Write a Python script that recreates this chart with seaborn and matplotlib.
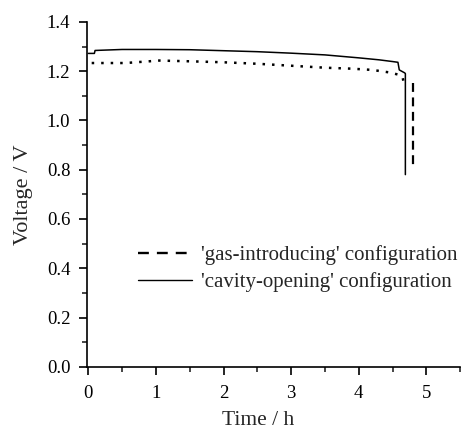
import numpy as np
import pandas as pd
import matplotlib
matplotlib.use("Agg")
import matplotlib.pyplot as plt
import seaborn as sns
from matplotlib.ticker import MultipleLocator
from matplotlib.lines import Line2D

# 'cavity-opening' configuration (solid)
cav_t = [0.0, 0.09, 0.10, 0.5, 1.0, 1.5, 2.0, 2.5, 3.0, 3.5, 4.0, 4.3, 4.5, 4.58, 4.60, 4.68, 4.69, 4.69]
cav_v = [1.272, 1.272, 1.284, 1.288, 1.288, 1.287, 1.283, 1.279, 1.273, 1.266, 1.254, 1.246, 1.239, 1.236, 1.205, 1.193, 1.19, 0.78]

# 'gas-introducing' configuration: plateau (dotted look) and final drop (dashed)
gas_t = [0.05, 0.3, 0.55, 1.05, 1.5, 2.0, 2.5, 3.0, 3.5, 3.9, 4.2, 4.45, 4.6, 4.65, 4.66]
gas_v = [1.233, 1.233, 1.233, 1.243, 1.240, 1.236, 1.230, 1.222, 1.214, 1.210, 1.205, 1.195, 1.185, 1.175, 1.16]
drop_t = [4.8, 4.8]
drop_v = [1.15, 0.81]

labels = ["'gas-introducing' configuration", "'cavity-opening' configuration"]
xticks = [0, 1, 2, 3, 4, 5]
yticks = [0.0, 0.2, 0.4, 0.6, 0.8, 1.0, 1.2, 1.4]

sns.set_style("ticks")
plt.rcParams['font.family'] = ['Liberation Serif', 'DejaVu Serif']

fig = plt.figure(figsize=(4.70, 4.29), dpi=100)
ax = fig.add_axes([0.185, 0.145, 0.794, 0.804])

cav = pd.DataFrame({"t": cav_t, "v": cav_v})
gas = pd.DataFrame({"t": gas_t, "v": gas_v})
drop = pd.DataFrame({"t": drop_t, "v": drop_v})

sns.lineplot(data=gas, x="t", y="v", ax=ax, color="black", lw=1.8,
             linestyle=(0, (1.0, 2.8)), sort=False, estimator=None)
sns.lineplot(data=drop, x="t", y="v", ax=ax, color="black", lw=1.6,
             linestyle=(0, (4, 2.5)), sort=False, estimator=None)
sns.lineplot(data=cav, x="t", y="v", ax=ax, color="black", lw=1.1,
             sort=False, estimator=None)

handles = [Line2D([], [], color="black", lw=1.7, linestyle=(0, (4.6, 3.4))),
           Line2D([], [], color="black", lw=1.0)]
ax.legend(handles, labels, frameon=False, loc="upper left",
          bbox_to_anchor=(0.137, 0.352), fontsize=15, handlelength=2.6,
          handletextpad=0.4, labelspacing=0.35, borderpad=0, borderaxespad=0)

ax.set_xlim(-0.02, 5.5)
ax.set_ylim(0.0, 1.4)
ax.set_xticks(xticks)
ax.set_yticks(yticks)
ax.set_yticklabels([f"{v:.1f}" for v in yticks])
ax.xaxis.set_minor_locator(MultipleLocator(0.5))
ax.yaxis.set_minor_locator(MultipleLocator(0.1))
ax.tick_params(which="major", direction="out", length=6, width=1.2, labelsize=13.5, colors="black")
ax.tick_params(which="minor", direction="out", length=3.5, width=1.2)
ax.tick_params(axis="x", pad=7)
ax.tick_params(axis="y", pad=6)
for s in ["top", "right"]:
    ax.spines[s].set_visible(False)
for s in ["left", "bottom"]:
    ax.spines[s].set_linewidth(1.2)
    ax.spines[s].set_color("black")

ax.set_xlabel("Time / h", fontsize=15.5)
ax.xaxis.set_label_coords(0.46, -0.128)
ax.set_ylabel("Voltage / V", fontsize=16)
ax.yaxis.set_label_coords(-0.145, 0.5)

fig.savefig("out.png", dpi=100)
